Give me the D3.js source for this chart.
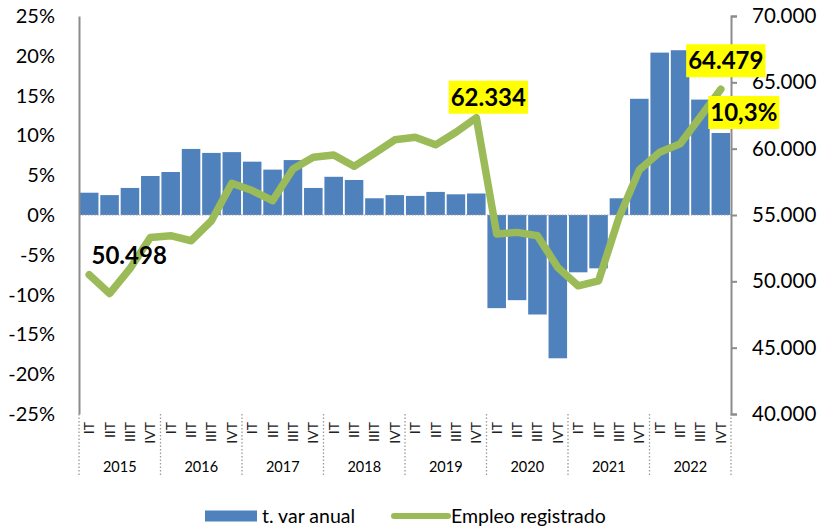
<!DOCTYPE html>
<html>
<head>
<meta charset="utf-8">
<script src="https://cdn.jsdelivr.net/npm/d3@7"></script>
<style>
  body { margin: 0; background: #fff; }
  text { font-family: Lato, "Open Sans", sans-serif; }
</style>
</head>
<body>
<div class="svg-container"></div>
<script>
var width = 823;
var height = 526;

var padding = { "top": 16, "right": 92, "bottom": 112, "left": 79 };

// data
var years = ["2015", "2016", "2017", "2018", "2019", "2020", "2021", "2022"];
var quarters = ["IT", "IIT", "IIIT", "IVT"];
var varAnual = [2.8, 2.5, 3.4, 4.9, 5.4, 8.3, 7.8, 7.9, 6.7, 5.7, 6.9, 3.4,
                4.8, 4.4, 2.1, 2.5, 2.4, 2.9, 2.6, 2.7, -11.7, -10.7, -12.5, -18.0,
                -7.2, -6.7, 2.1, 14.6, 20.4, 20.7, 14.5, 10.3];
var empleo = [50498, 49080, 50950, 53310, 53440, 53060, 54570, 57390,
              56840, 56080, 58470, 59350, 59530, 58670, 59650, 60670,
              60860, 60290, 61240, 62334, 53570, 53690, 53440, 51040,
              49660, 50040, 54800, 58400, 59730, 60360, 62400, 64479];
var leftTicks = [-25, -20, -15, -10, -5, 0, 5, 10, 15, 20, 25];
var rightTicks = [40000, 45000, 50000, 55000, 60000, 65000, 70000];

var barColor = "#4F81BD";
var lineColor = "#9BBB59";

// one entry per quarter
var data = [];
years.forEach(function(y, yi) {
    quarters.forEach(function(q, qi) {
        var i = yi * 4 + qi;
        data.push({ key: y + "-" + q, year: y, q: q, v: varAnual[i], e: empleo[i] });
    });
});

var innerW = width - padding.left - padding.right;
var innerH = height - padding.top - padding.bottom;

var svg = d3.select(".svg-container")
              .append("svg")
              .attr("width", width)
              .attr("height", height)
              .append("g")
              .attr("transform", "translate(" + padding.left + "," + padding.top + ")");

// scales
var scaleX = d3.scaleBand()
                .domain(data.map(function(d) { return d.key; }))
                .range([0, innerW])
                .paddingInner(0.09)
                .paddingOuter(0.045);

var scaleY = d3.scaleLinear().domain([-25, 25]).range([innerH, 0]);
var scaleY2 = d3.scaleLinear().domain([40000, 70000]).range([innerH, 0]);

function fmtEmp(v) { return d3.format(",")(v).replace(/,/g, "."); }
function fmtRight(v) { return (v / 1000).toFixed(3); }

// bars
svg.append("g")
    .selectAll("rect")
    .data(data)
    .enter()
    .append("rect")
    .attr("x", function(d) { return scaleX(d.key); })
    .attr("width", scaleX.bandwidth())
    .attr("y", function(d) { return scaleY(Math.max(0, d.v)); })
    .attr("height", function(d) { return Math.abs(scaleY(d.v) - scaleY(0)); })
    .attr("fill", barColor);

// zero line (dotted)
svg.append("line")
    .attr("x1", 0).attr("x2", innerW)
    .attr("y1", scaleY(0)).attr("y2", scaleY(0))
    .attr("stroke", "#a6a6a6")
    .attr("stroke-width", 1.2)
    .attr("stroke-dasharray", "1.5,1.5");

// employment line
var line = d3.line()
             .x(function(d) { return scaleX(d.key) + scaleX.bandwidth() / 2; })
             .y(function(d) { return scaleY2(d.e); });

svg.append("path")
    .datum(data)
    .attr("fill", "none")
    .attr("stroke", lineColor)
    .attr("stroke-width", 7.5)
    .attr("stroke-linejoin", "round")
    .attr("stroke-linecap", "round")
    .attr("d", line);

// left axis
var yAxisL = svg.append("g")
    .call(d3.axisLeft(scaleY).tickValues(leftTicks).tickSize(0).tickPadding(24)
          .tickFormat(function(d) { return d + "%"; }));
yAxisL.select(".domain").attr("stroke", "#8c8c8c").attr("stroke-width", 2);
yAxisL.selectAll("text").attr("font-size", 20).attr("fill", "#000")
      .style("font-family", "Lato, sans-serif");

// right axis
var yAxisR = svg.append("g")
    .attr("transform", "translate(" + innerW + ",0)")
    .call(d3.axisRight(scaleY2).tickValues(rightTicks).tickSizeInner(6).tickSizeOuter(6).tickPadding(15)
          .tickFormat(fmtRight));
yAxisR.select(".domain").attr("stroke", "#8c8c8c").attr("stroke-width", 2);
yAxisR.selectAll("line").attr("stroke", "#8c8c8c").attr("stroke-width", 2);
yAxisR.selectAll("text").attr("font-size", 20.5).attr("fill", "#000")
      .style("font-family", "Lato, sans-serif");

// x axis: quarter labels, rotated
var xg = svg.append("g").attr("transform", "translate(0," + innerH + ")");
xg.selectAll("text.q")
    .data(data)
    .enter()
    .append("text")
    .attr("class", "q")
    .attr("transform", function(d) {
        return "translate(" + (scaleX(d.key) + scaleX.bandwidth() / 2 + 5) + ",8) rotate(-90)";
    })
    .attr("text-anchor", "end")
    .attr("font-size", 14)
    .attr("fill", "#222")
    .text(function(d) { return d.q; });

// year separators + year labels
var step = scaleX.step();
var x0 = scaleX(data[0].key) - scaleX.paddingInner() * step / 2;
var sepX = years.map(function(y, i) { return x0 + i * 4 * step; });
sepX.push(innerW);
xg.selectAll("line.sep")
    .data(sepX)
    .enter()
    .append("line")
    .attr("x1", function(d) { return d; })
    .attr("x2", function(d) { return d; })
    .attr("y1", 0).attr("y2", 61)
    .attr("stroke", "#9a9a9a")
    .attr("stroke-width", 1.3)
    .attr("stroke-dasharray", "1.5,2");

xg.selectAll("text.year")
    .data(years)
    .enter()
    .append("text")
    .attr("class", "year")
    .attr("x", function(y) {
        return (scaleX(y + "-IT") + scaleX(y + "-IVT") + scaleX.bandwidth()) / 2;
    })
    .attr("y", 58)
    .attr("text-anchor", "middle")
    .attr("font-size", 14.5)
    .attr("fill", "#000")
    .text(function(y) { return y; });

// annotations
function label(x, y, txt, bg) {
    var g = svg.append("g");
    var t = g.append("text")
        .attr("x", x).attr("y", y)
        .attr("text-anchor", "middle")
        .attr("font-size", 24)
        .attr("font-weight", "bold")
        .attr("fill", "#000")
        .text(txt);
    if (bg) {
        var b = t.node().getBBox();
        g.insert("rect", "text")
            .attr("x", b.x - 2).attr("y", y - 25)
            .attr("width", b.width + 4).attr("height", 33)
            .attr("fill", "#FFFF00");
    }
}

var first = data[0], peak = data[19], last = data[31];
var cx = function(d) { return scaleX(d.key) + scaleX.bandwidth() / 2; };

label(cx(first) + 40, scaleY2(first.e) - 11, fmtEmp(first.e), false);
label(cx(peak) + 12, scaleY2(peak.e) - 12, fmtEmp(peak.e), true);
label(cx(last) + 5, scaleY2(last.e) - 20, fmtEmp(last.e), true);
label(cx(last) + 23, scaleY(last.v) - 12, (last.v + "").replace(".", ",") + "%", true);

// legend
var lg = svg.append("g").attr("transform", "translate(0," + (innerH + 102) + ")");
lg.append("rect")
    .attr("x", 126).attr("y", -5.5)
    .attr("width", 52).attr("height", 11)
    .attr("fill", barColor);
lg.append("text")
    .attr("x", 183).attr("y", 6.5)
    .attr("font-size", 19.5)
    .attr("fill", "#000")
    .text("t. var anual");
lg.append("line")
    .attr("x1", 315).attr("x2", 369)
    .attr("y1", 0).attr("y2", 0)
    .attr("stroke", lineColor)
    .attr("stroke-width", 6)
    .attr("stroke-linecap", "round");
lg.append("text")
    .attr("x", 372).attr("y", 6.5)
    .attr("font-size", 19.5)
    .attr("fill", "#000")
    .text("Empleo registrado");
</script>
</body>
</html>
